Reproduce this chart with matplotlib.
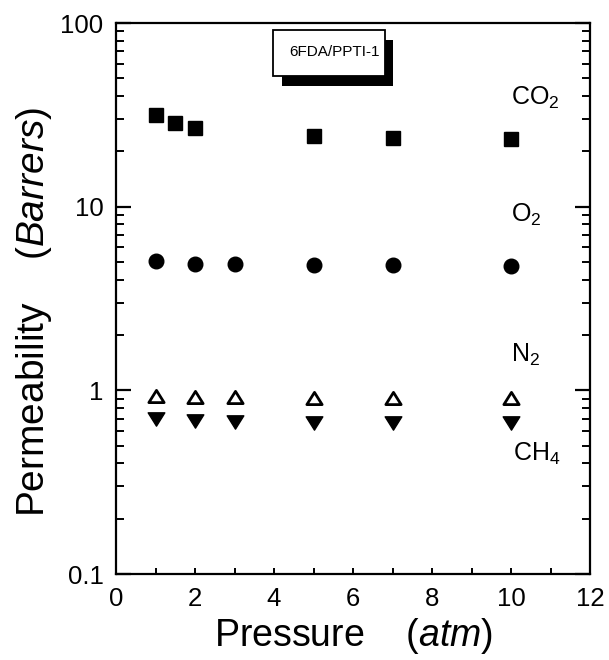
import matplotlib
matplotlib.use("Agg")
import matplotlib.pyplot as plt
from matplotlib.patches import Rectangle
from matplotlib.path import Path
from matplotlib.ticker import MultipleLocator, LogLocator, NullFormatter, FixedLocator, FixedFormatter

plt.rcParams['font.family'] = ['Liberation Sans', 'DejaVu Sans']
plt.rcParams['mathtext.fontset'] = 'custom'
plt.rcParams['mathtext.rm'] = 'Liberation Sans'
plt.rcParams['mathtext.it'] = 'Liberation Sans:italic'
plt.rcParams['mathtext.bf'] = 'Liberation Sans:bold'

# Permeability (Barrers) vs feed pressure (atm) for 6FDA/PPTI-1
p_co2 = [1, 1.5, 2, 5, 7, 10]
perm_co2 = [31.4, 28.5, 26.9, 24.4, 23.6, 23.4]

p_o2 = [1, 2, 3, 5, 7, 10]
perm_o2 = [5.06, 4.89, 4.89, 4.83, 4.81, 4.75]

p_n2 = [1, 2, 3, 5, 7, 10]
perm_n2 = [0.93, 0.92, 0.92, 0.91, 0.91, 0.91]

p_ch4 = [1, 2, 3, 5, 7, 10]
perm_ch4 = [0.70, 0.68, 0.67, 0.665, 0.66, 0.66]

gas_labels = ["CO$_2$", "O$_2$", "N$_2$", "CH$_4$"]
gas_label_x = [10.0, 10.0, 10.0, 10.05]
gas_label_y = [39.0, 9.0, 1.56, 0.45]

x_ticks = [0, 2, 4, 6, 8, 10, 12]
y_ticks = [0.1, 1, 10, 100]
y_ticklabels = ["0.1", "1", "10", "100"]

fig = plt.figure(figsize=(6.09, 6.6), dpi=100)
ax = fig.add_axes([0.1905, 0.1303, 0.7783, 0.8348])

ax.plot(p_co2, perm_co2, ls='none', marker='s', ms=10, color='black')
ax.plot(p_o2, perm_o2, ls='none', marker='o', ms=10.5, color='black')

# flattened triangles (wider than tall)
tri_up = Path([(-1, -0.8), (1, -0.8), (0, 0.8), (-1, -0.8)], closed=True)
tri_dn = Path([(-1, 0.8), (1, 0.8), (0, -0.8), (-1, 0.8)], closed=True)
ax.plot(p_n2, perm_n2, ls='none', marker=tri_up, ms=11, mfc='white',
        mec='black', mew=2.0)
ax.plot(p_ch4, perm_ch4, ls='none', marker=tri_dn, ms=12, color='black')

for lab, lx, ly in zip(gas_labels, gas_label_x, gas_label_y):
    ax.text(lx, ly, lab, fontsize=18, ha='left', va='center')

ax.set_yscale('log')
ax.set_xlim(0, 12)
ax.set_ylim(0.1, 100)

ax.xaxis.set_major_locator(FixedLocator(x_ticks))
ax.xaxis.set_minor_locator(MultipleLocator(1))
ax.yaxis.set_major_locator(FixedLocator(y_ticks))
ax.yaxis.set_major_formatter(FixedFormatter(y_ticklabels))
ax.yaxis.set_minor_locator(LogLocator(base=10, subs=range(2, 10)))
ax.yaxis.set_minor_formatter(NullFormatter())

for s in ax.spines.values():
    s.set_linewidth(1.6)

ax.tick_params(axis='y', which='major', direction='in', length=11, width=1.6,
               labelsize=18.5, pad=9, left=True, right=True)
ax.tick_params(axis='y', which='minor', direction='in', length=5.5, width=1.4,
               left=True, right=True)
ax.tick_params(axis='x', which='major', direction='in', length=4, width=1.4,
               labelsize=18.5, pad=9, bottom=True, top=False)
ax.tick_params(axis='x', which='minor', direction='in', length=4, width=1.4,
               bottom=True, top=False)

ax.set_xlabel("Pressure    ($\\mathit{atm}$)", fontsize=27, labelpad=4)
ax.set_ylabel("Permeability    ($\\mathit{Barrers}$)", fontsize=28)
ax.yaxis.set_label_coords(-0.13, 0.475)

# Sample label box with a drop shadow
W, H = 609.0, 660.0
def px_rect(x0, y0, x1, y1, **kw):
    return Rectangle((x0 / W, 1 - y1 / H), (x1 - x0) / W, (y1 - y0) / H,
                     transform=fig.transFigure, **kw)

fig.patches.append(px_rect(282, 40, 393, 86, facecolor='black', edgecolor='none'))
fig.patches.append(px_rect(273, 30, 385, 76, facecolor='white', edgecolor='black', linewidth=1.3))
fig.text(335 / W, 1 - 52 / H, "6FDA/PPTI-1", fontsize=11,
         ha='center', va='center')

fig.savefig("out.png", dpi=100)
